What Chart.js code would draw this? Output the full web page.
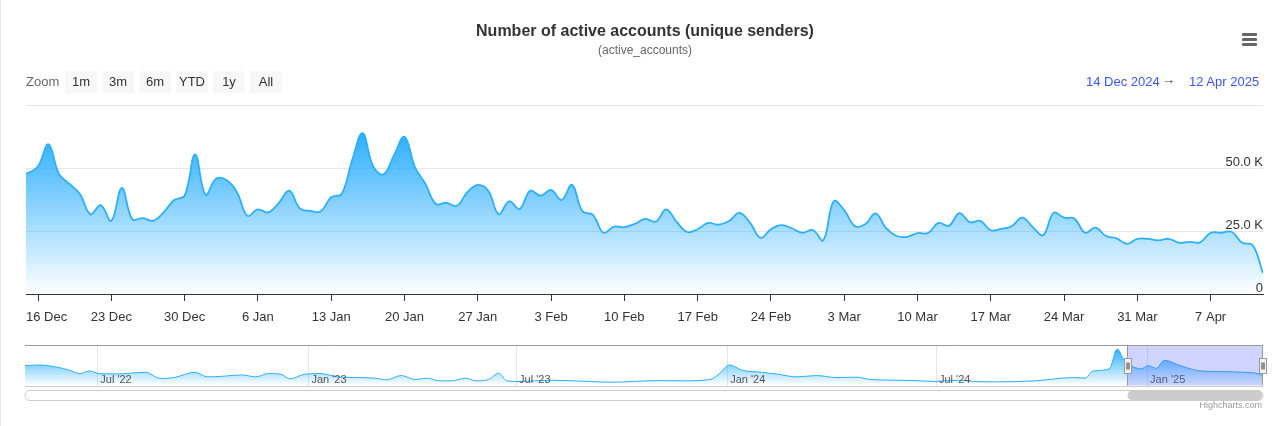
<!DOCTYPE html>
<html>
<head>
<meta charset="utf-8">
<title>Number of active accounts (unique senders)</title>
<script src="https://cdn.jsdelivr.net/npm/chart.js@4.4.1/dist/chart.umd.min.js"></script>
<style>
html, body { margin: 0; padding: 0; background: #fff; }
body { width: 1284px; height: 426px; position: relative; overflow: hidden; font-family: "Liberation Sans", Arial, Helvetica, sans-serif; }
.abs { position: absolute; white-space: nowrap; }
#frame { left: 0; top: 0; width: 1px; height: 426px; background: #e6e6e6; }
#title { left: 0; width: 1290px; top: 21px; text-align: center; font-size: 16px; font-weight: bold; color: #333; line-height: 19px; }
#subtitle { left: 0; width: 1290px; top: 43px; text-align: center; font-size: 12px; color: #666; line-height: 14px; }
#menu { left: 1242px; top: 32px; width: 15px; height: 13px; }
#menu div { position: absolute; left: 0; width: 15px; height: 3px; background: #666; border-radius: 1px; }
#zoomLabel { left: 26px; top: 74px; font-size: 13px; color: #666; line-height: 16px; }
.btn { top: 71px; width: 32px; height: 22px; line-height: 22px; text-align: center; font-size: 13px; color: #333; background: #f7f7f7; border-radius: 2px; }
.date { top: 74px; font-size: 13px; line-height: 16px; color: #3b56f0; }
#arrow { top: 72px; left: 1162px; font-size: 13px; line-height: 16px; color: #333; }
#credits { right: 22px; top: 400px; font-size: 9px; line-height: 11px; color: #999; }
#mainWrap { left: 0; top: 0; width: 1284px; height: 330px; }
#navWrap { left: 0; top: 338px; width: 1284px; height: 66px; }
</style>
</head>
<body>
<div id="frame" class="abs"></div>
<div id="mainWrap" class="abs"><canvas id="mainChart"></canvas></div>
<div id="navWrap" class="abs"><canvas id="navChart"></canvas></div>

<div id="title" class="abs">Number of active accounts (unique senders)</div>
<div id="subtitle" class="abs">(active_accounts)</div>
<div id="menu" class="abs"><div style="top:1px"></div><div style="top:6px"></div><div style="top:11px"></div></div>
<div id="zoomLabel" class="abs">Zoom</div>
<div id="buttons"></div>
<div class="abs date" style="left:1086px">14 Dec 2024</div>
<div id="arrow" class="abs">→</div>
<div class="abs date" style="left:1189px">12 Apr 2025</div>
<div id="credits" class="abs">Highcharts.com</div>

<script>
// --- data (x = days relative to 16 Dec 2024) ---
const rangeButtons = ['1m', '3m', '6m', 'YTD', '1y', 'All'];

// daily active accounts, 14 Dec 2024 .. 12 Apr 2025
const mainFirstDay = -2;
const mainValues = [
    47500, 48000, 50700, 59400, 47700, 43700, 39700, 31700, 35200, 29000,
    42100, 29700, 30100, 29100, 32400, 37300, 39000, 55400, 39400, 45700,
    45200, 40400, 31000, 33600, 32400, 36200, 41000, 34000, 33000, 32800,
    38400, 39700, 53100, 63800, 50700, 47500, 55100, 62400, 50400, 43700,
    35700, 36200, 35000, 40400, 43300, 41000, 31700, 36800, 33700, 41000,
    39000, 41300, 37300, 43300, 32800, 31400, 24300, 26700, 26500, 27800,
    29800, 28700, 33600, 28600, 24600, 25700, 28200, 27500, 29000, 32200,
    28300, 22300, 25700, 27300, 26100, 24300, 25400, 21300, 36800, 33300,
    27000, 27700, 32000, 26100, 23000, 22700, 24200, 24200, 28200, 27100,
    32100, 28500, 29000, 25300, 25800, 26900, 30300, 26600, 23300, 32200,
    30300, 29900, 24300, 26300, 23000, 22100, 19900, 21900, 21900, 21300,
    21900, 20300, 20700, 20500, 24300, 24300, 24700, 20300, 19400, 8300
];
const mainXMin = -1.15;
const mainXMax = 117;
const xTickDays = [0, 7, 14, 21, 28, 35, 42, 49, 56, 63, 70, 77, 84, 91, 98, 105, 112];
const xTickLabels = ['16 Dec', '23 Dec', '30 Dec', '6 Jan', '13 Jan', '20 Jan', '27 Jan', '3 Feb',
    '10 Feb', '17 Feb', '24 Feb', '3 Mar', '10 Mar', '17 Mar', '24 Mar', '31 Mar', '7 Apr'];
const yTickValues = [0, 25000, 50000, 75000];
const yTickLabels = ['0', '25.0 K', '50.0 K', '75.0 K'];
const yMax = 75000;

// navigator (whole history, grouped)
const navDays = [
    -962, -949, -935, -924, -914, -906, -897, -881, -871, -857,
    -844, -832, -814, -803, -789, -773, -761, -750, -739, -731,
    -718, -704, -690, -675, -657, -647, -634, -622, -611, -601,
    -590, -578, -569, -558, -549, -542, -531, -505, -469, -451,
    -409, -389, -365, -358, -348, -337, -320, -306, -289, -272,
    -255, -237, -227, -203, -186, -169, -148, -134, -117, -82,
    -48, -38, -31, -17, -10, -5, -1.5, 4, 10.5, 17,
    24, 31, 45, 62, 79, 100, 110, 117
];
const navValues = [
    38200, 39600, 35300, 28800, 20800, 26600, 20800, 20100, 21500, 23700,
    10000, 12100, 23700, 13600, 15000, 17900, 13600, 20800, 19400, 9200,
    19400, 20800, 13600, 12100, 10700, 7100, 16500, 7800, 10700, 4900,
    4900, 10700, 4900, 7800, 21500, 4900, 3400, 6300, 3400, 2000,
    5500, 4900, 7800, 17900, 39600, 28100, 23700, 19400, 13600, 16500,
    12100, 12900, 8500, 6300, 5600, 3400, 6300, 3400, 2700, 4900,
    12100, 10700, 26600, 31000, 74400, 54100, 43300, 35300, 31000, 38200,
    32400, 49800, 38200, 26600, 25200, 23700, 22000, 16500
];
const navXMin = -962;
const navXMax = 117;
const navYMin = -5300;
const navYMax = 82300;
const navTickDays = [-899, -715, -534, -350, -168, 16];
const navTickLabels = ["Jul '22", "Jan '23", "Jul '23", "Jan '24", "Jul '24", "Jan '25"];

const FONT = '"Liberation Sans", Arial, Helvetica, sans-serif';
const SERIES_COLOR = '#2caffe';
Chart.defaults.font.family = FONT;

// range selector buttons
const btnBox = document.getElementById('buttons');
rangeButtons.forEach((txt, i) => {
    const b = document.createElement('div');
    b.className = 'abs btn';
    b.style.left = (65 + i * 37) + 'px';
    b.textContent = txt;
    btnBox.appendChild(b);
});

function areaGradient(context, maxValue) {
    const chart = context.chart;
    const { ctx, chartArea, scales } = chart;
    if (!chartArea) return 'rgba(44,175,254,0.4)';
    const top = scales.y.getPixelForValue(maxValue);
    const g = ctx.createLinearGradient(0, top, 0, chartArea.bottom);
    g.addColorStop(0, 'rgba(44,175,254,1)');
    g.addColorStop(1, 'rgba(44,175,254,0)');
    return g;
}

// --- main chart ---
const mainPoints = mainValues.map((v, i) => ({ x: mainFirstDay + i, y: v }));

// axis labels: y labels sit above their grid line, x labels are kept inside the plot width
const axisLabelPlugin = {
    id: 'axisLabels',
    afterDatasetsDraw(chart) {
        const { ctx, chartArea, scales: { x, y } } = chart;
        ctx.save();
        ctx.font = '13px ' + FONT;
        ctx.fillStyle = '#333';
        ctx.textAlign = 'right';
        ctx.textBaseline = 'alphabetic';
        yTickValues.forEach((v, i) => {
            if (i === yTickValues.length - 1) return; // last label hidden
            ctx.fillText(yTickLabels[i], chartArea.right, y.getPixelForValue(v) - 2);
        });
        ctx.textAlign = 'left';
        ctx.textBaseline = 'middle';
        xTickDays.forEach((d, i) => {
            const w = ctx.measureText(xTickLabels[i]).width;
            let left = x.getPixelForValue(d) - w / 2;
            left = Math.max(chartArea.left, Math.min(left, chartArea.right - w));
            ctx.fillText(xTickLabels[i], left, chartArea.bottom + 23);
        });
        ctx.restore();
    }
};

new Chart(document.getElementById('mainChart'), {
    type: 'line',
    data: {
        datasets: [{
            data: mainPoints,
            borderColor: SERIES_COLOR,
            borderWidth: 1.8,
            pointRadius: 0,
            tension: 0.4,
            fill: 'origin',
            backgroundColor: ctx => areaGradient(ctx, Math.max(...mainValues))
        }]
    },
    options: {
        responsive: true,
        maintainAspectRatio: false,
        animation: false,
        layout: { autoPadding: false, padding: { top: 105, left: 26, right: 21, bottom: 0 } },
        plugins: { legend: { display: false }, tooltip: { enabled: false } },
        scales: {
            x: {
                type: 'linear',
                min: mainXMin,
                max: mainXMax,
                afterBuildTicks: s => { s.ticks = xTickDays.map(v => ({ value: v })); },
                afterFit: s => { s.height = 36; },
                ticks: { display: false },
                grid: { drawOnChartArea: false, tickLength: 7, color: '#333' },
                border: { color: '#333', width: 1 }
            },
            y: {
                position: 'right',
                min: 0,
                max: yMax,
                afterBuildTicks: s => { s.ticks = yTickValues.map(v => ({ value: v })); },
                afterFit: s => { s.width = 0; },
                ticks: { display: false },
                grid: { color: '#e6e6e6', drawTicks: false },
                border: { display: false }
            }
        }
    },
    plugins: [axisLabelPlugin]
});

// --- navigator ---
const navPoints = navDays.map((d, i) => ({ x: d, y: navValues[i] }));

const navigatorDecor = {
    id: 'navigatorDecor',
    afterDatasetsDraw(chart) {
        const { ctx, chartArea: a, scales: { x } } = chart;
        const x0 = Math.round(x.getPixelForValue(mainXMin)) + 0.5;
        const x1 = Math.round(x.getPixelForValue(mainXMax)) - 0.5;
        ctx.save();

        // axis labels inside the navigator
        ctx.font = '11px ' + FONT;
        ctx.fillStyle = '#555';
        ctx.textAlign = 'left';
        ctx.textBaseline = 'alphabetic';
        navTickDays.forEach((d, i) => {
            ctx.fillText(navTickLabels[i], x.getPixelForValue(d) + 3, a.bottom - 3);
        });

        // selected range mask
        ctx.fillStyle = 'rgba(80,100,250,0.28)';
        ctx.fillRect(x0, a.top, x1 - x0, a.bottom - a.top);

        // outline
        ctx.lineWidth = 1;
        ctx.strokeStyle = '#ccc';
        ctx.beginPath();
        ctx.moveTo(a.left, Math.round(a.bottom) + 0.5);
        ctx.lineTo(a.right, Math.round(a.bottom) + 0.5);
        ctx.stroke();
        ctx.strokeStyle = '#999';
        ctx.beginPath();
        const top = Math.round(a.top) - 0.5;
        ctx.moveTo(a.left, top);
        ctx.lineTo(a.right, top);
        ctx.moveTo(x0, top);
        ctx.lineTo(x0, a.bottom);
        ctx.moveTo(x1, top);
        ctx.lineTo(x1, a.bottom);
        ctx.stroke();

        // handles
        const hy = Math.round((a.top + a.bottom) / 2 - 8) + 0.5;
        [x0, x1].forEach(hx => {
            const l = Math.round(hx - 4) + 0.5;
            ctx.fillStyle = '#f2f2f2';
            ctx.strokeStyle = '#999';
            ctx.fillRect(l, hy, 7, 15);
            ctx.strokeRect(l, hy, 7, 15);
            ctx.strokeStyle = '#333';
            ctx.beginPath();
            ctx.moveTo(l + 2.5, hy + 4); ctx.lineTo(l + 2.5, hy + 11);
            ctx.moveTo(l + 4.5, hy + 4); ctx.lineTo(l + 4.5, hy + 11);
            ctx.stroke();
        });

        // scrollbar
        const sy = Math.round(a.bottom) + 4.5;
        ctx.fillStyle = '#fff';
        ctx.strokeStyle = '#ccc';
        ctx.beginPath();
        ctx.roundRect(a.left, sy, a.right - a.left, 10, 5);
        ctx.fill();
        ctx.stroke();
        ctx.fillStyle = '#ccc';
        ctx.beginPath();
        ctx.roundRect(x0, sy, x1 - x0, 10, 5);
        ctx.fill();

        ctx.restore();
    }
};

new Chart(document.getElementById('navChart'), {
    type: 'line',
    data: {
        datasets: [{
            data: navPoints,
            borderColor: SERIES_COLOR,
            borderWidth: 1,
            pointRadius: 0,
            cubicInterpolationMode: 'monotone',
            fill: 'start',
            backgroundColor: ctx => areaGradient(ctx, Math.max(...navValues))
        }]
    },
    options: {
        responsive: true,
        maintainAspectRatio: false,
        animation: false,
        layout: { autoPadding: false, padding: { top: 7.5, left: 25, right: 21, bottom: 18.5 } },
        plugins: { legend: { display: false }, tooltip: { enabled: false } },
        scales: {
            x: {
                type: 'linear',
                min: navXMin,
                max: navXMax,
                afterBuildTicks: s => { s.ticks = navTickDays.map(v => ({ value: v })); },
                afterFit: s => { s.height = 0; },
                ticks: { display: false },
                grid: { color: '#e6e6e6', drawTicks: false },
                border: { display: false }
            },
            y: {
                min: navYMin,
                max: navYMax,
                afterFit: s => { s.width = 0; },
                ticks: { display: false },
                grid: { display: false },
                border: { display: false }
            }
        }
    },
    plugins: [navigatorDecor]
});
</script>
</body>
</html>
